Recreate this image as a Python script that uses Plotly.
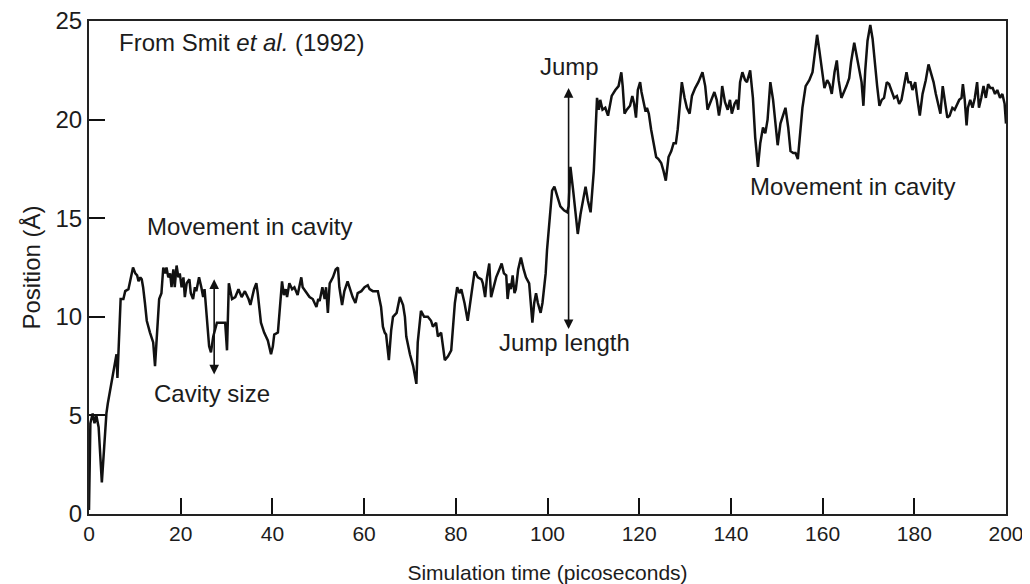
import plotly.graph_objects as go

# Simulation time (ps) and position (Å)
time_ps = [
    0.0, 0.3, 0.8, 1.2, 1.6, 2.1, 2.8, 3.5, 3.8, 4.1, 4.6, 5.3, 5.7, 6.0, 6.2, 6.6, 6.9, 7.5, 7.9, 8.6,
    9.0, 9.6, 10.1, 10.5, 10.8, 11.2, 11.5, 11.8, 12.2, 12.6, 13.3, 14.0, 14.4, 14.8, 15.3, 15.8, 16.2, 16.6, 16.9, 17.3,
    17.7, 18.0, 18.4, 18.7, 19.1, 19.5, 19.8, 20.2, 20.6, 20.9, 21.3, 21.9, 22.2, 22.7, 23.1, 23.4, 24.0, 24.5, 24.9, 25.2,
    25.8, 26.2, 26.6, 27.1, 27.9, 29.7, 30.1, 30.5, 31.2, 31.9, 32.6, 33.3, 34.0, 34.8, 35.2, 36.0, 36.5, 36.8, 37.5, 38.2,
    39.0, 39.7, 40.1, 40.4, 41.2, 41.7, 42.1, 42.5, 42.9, 43.2, 43.7, 44.3, 44.8, 45.5, 46.3, 46.6, 47.4, 48.1, 48.8, 49.6,
    50.0, 50.3, 50.9, 51.4, 51.7, 52.1, 52.5, 53.2, 53.8, 54.3, 54.6, 55.2, 55.7, 56.4, 56.8, 57.5, 58.1, 58.6, 59.4, 60.1,
    60.8, 61.2, 61.9, 63.0, 63.7, 64.1, 64.5, 64.8, 65.4, 65.9, 66.3, 67.1, 67.8, 68.5, 68.9, 69.2, 70.0, 70.7, 71.4, 71.7,
    72.4, 73.1, 73.9, 74.6, 75.0, 75.7, 76.1, 76.8, 77.6, 78.3, 79.0, 79.8, 80.3, 80.8, 81.2, 81.9, 82.6, 83.4, 84.1, 84.8,
    85.6, 85.9, 86.4, 86.8, 87.3, 87.7, 88.3, 88.8, 89.5, 90.0, 90.5, 91.0, 91.3, 91.7, 92.0, 92.4, 92.8, 93.1, 93.6, 94.2,
    94.8, 95.3, 96.0, 96.4, 96.7, 97.1, 97.5, 97.9, 98.5, 98.9, 99.2, 99.6, 99.9, 100.3, 100.7, 101.0, 101.5, 102.1, 102.8, 103.6,
    104.3, 104.6, 105.0, 105.6, 106.1, 106.6, 107.2, 107.9, 108.3, 108.8, 109.4, 110.1, 110.8, 111.2, 111.5, 112.0, 112.6, 113.2, 113.7, 114.0,
    114.8, 115.5, 116.1, 116.4, 116.8, 117.3, 118.0, 118.5, 118.9, 119.3, 119.7, 120.2, 120.5, 120.9, 121.4, 121.7, 122.1, 122.6, 123.1, 123.7,
    124.2, 124.8, 125.3, 125.8, 126.4, 127.0, 127.5, 128.0, 128.4, 128.9, 129.3, 129.9, 130.4, 131.0, 131.5, 132.2, 132.9, 133.8, 134.4, 134.9,
    135.4, 135.8, 136.4, 136.9, 137.4, 137.8, 138.1, 138.7, 139.3, 139.8, 140.2, 140.8, 141.3, 141.6, 142.0, 142.5, 143.1, 143.5, 144.2, 144.8,
    145.3, 145.9, 146.4, 147.0, 147.5, 148.0, 148.6, 149.2, 149.7, 150.2, 150.8, 151.4, 151.9, 152.5, 153.0, 153.6, 154.1, 154.6, 155.1, 155.6,
    156.3, 157.1, 157.8, 158.3, 158.8, 159.3, 159.9, 160.4, 161.0, 161.5, 162.0, 162.6, 163.1, 163.5, 164.1, 164.7, 165.2, 165.8, 166.2, 166.9,
    167.5, 168.0, 168.5, 168.9, 169.3, 169.8, 170.4, 170.9, 171.3, 171.9, 172.4, 172.9, 173.4, 174.0, 174.5, 175.0, 175.6, 176.2, 176.7, 177.2,
    177.8, 178.3, 178.7, 179.2, 179.6, 180.2, 180.7, 181.2, 181.8, 182.5, 183.1, 183.6, 184.2, 184.7, 185.3, 185.7, 186.2, 186.7, 187.2, 187.7,
    188.3, 188.8, 189.3, 189.8, 190.3, 190.6, 191.0, 191.4, 191.7, 192.2, 192.7, 193.2, 193.7, 194.1, 194.6, 195.1, 195.6, 196.1, 196.6, 197.1,
    197.6, 198.1, 198.7, 199.2, 199.7, 200.0,
]
position_A = [
    0.2, 4.6, 5.1, 4.6, 5.0, 4.4, 1.6, 4.4, 5.1, 5.6, 6.3, 7.1, 7.8, 8.1, 6.9, 9.8, 10.9, 10.9, 11.3, 11.4,
    11.9, 12.5, 12.2, 12.1, 11.8, 12.0, 11.9, 11.5, 10.7, 9.8, 9.2, 8.7, 7.5, 8.8, 10.9, 11.2, 12.5, 12.2, 12.5, 12.0,
    12.2, 11.5, 12.4, 11.5, 12.6, 12.0, 12.2, 11.5, 12.0, 11.0, 11.7, 11.9, 11.2, 10.9, 11.5, 11.3, 12.0, 11.5, 11.0, 11.4,
    9.8, 8.5, 8.2, 9.0, 9.7, 9.7, 8.3, 11.7, 10.9, 11.0, 11.4, 11.0, 11.3, 10.9, 10.6, 11.4, 11.7, 11.2, 9.7, 9.2,
    8.8, 8.1, 8.5, 9.1, 9.2, 10.9, 11.8, 11.1, 11.4, 11.0, 11.7, 11.4, 11.5, 11.1, 12.0, 11.5, 11.2, 11.0, 10.9, 10.5,
    10.9, 10.8, 11.5, 10.9, 11.5, 10.2, 11.7, 12.0, 12.4, 12.5, 11.5, 10.6, 11.3, 11.8, 11.5, 11.0, 10.7, 11.2, 11.3, 11.5,
    11.6, 11.4, 11.3, 11.3, 10.5, 9.5, 9.2, 9.1, 7.8, 9.3, 10.0, 10.2, 11.0, 10.6, 10.0, 9.0, 8.1, 7.5, 6.6, 8.7,
    10.3, 10.0, 10.0, 9.8, 9.5, 9.7, 9.0, 9.2, 7.8, 8.0, 8.3, 10.7, 11.5, 11.2, 11.4, 10.7, 9.8, 11.2, 12.3, 12.0,
    11.9, 11.7, 11.0, 12.0, 12.7, 11.0, 11.5, 12.0, 12.4, 12.7, 12.2, 12.1, 10.9, 11.7, 11.4, 12.1, 11.2, 11.4, 12.4, 13.0,
    12.4, 12.0, 11.7, 10.7, 9.7, 10.7, 11.2, 10.7, 10.2, 10.7, 11.4, 12.2, 13.4, 14.4, 15.4, 16.4, 16.6, 16.1, 15.6, 15.4,
    15.3, 15.6, 17.6, 16.4, 15.1, 14.2, 15.2, 16.1, 16.6, 15.9, 15.3, 17.4, 21.1, 20.5, 21.0, 20.5, 20.6, 20.2, 20.8, 21.2,
    21.5, 21.7, 22.4, 21.7, 20.3, 20.5, 20.7, 21.2, 20.8, 20.1, 21.5, 21.9, 21.4, 20.9, 20.4, 20.6, 20.3, 19.5, 18.8, 18.1,
    18.0, 17.8, 17.4, 16.9, 18.1, 18.4, 18.8, 18.8, 19.5, 20.8, 21.9, 21.1, 20.6, 20.3, 21.2, 21.6, 21.9, 22.4, 21.7, 20.5,
    20.8, 21.1, 21.4, 21.0, 20.2, 20.8, 21.7, 20.9, 20.5, 21.0, 20.3, 20.8, 21.0, 20.5, 21.9, 22.4, 22.0, 21.9, 22.5, 21.1,
    19.1, 17.6, 18.8, 19.6, 19.3, 20.0, 21.9, 21.0, 20.0, 18.7, 19.8, 20.3, 20.6, 19.6, 18.4, 18.3, 18.3, 18.0, 19.5, 20.6,
    21.7, 22.0, 22.4, 23.5, 24.3, 23.5, 22.5, 21.6, 22.0, 21.8, 21.3, 22.4, 23.0, 22.0, 21.1, 21.4, 21.7, 22.1, 22.9, 23.9,
    23.2, 22.5, 21.9, 20.7, 22.5, 24.0, 24.8, 24.1, 23.0, 21.7, 20.7, 21.0, 21.1, 21.9, 21.8, 21.5, 21.1, 21.2, 20.8, 21.0,
    21.8, 22.4, 21.9, 21.9, 21.5, 21.9, 21.0, 20.2, 21.3, 22.0, 22.8, 22.4, 21.9, 21.3, 20.6, 20.3, 21.7, 20.8, 20.1, 20.2,
    20.6, 20.5, 20.8, 21.0, 21.1, 21.8, 21.0, 19.7, 20.6, 21.0, 20.6, 21.1, 21.9, 20.6, 21.1, 21.7, 21.1, 21.8, 21.6, 21.6,
    21.3, 21.5, 21.1, 21.3, 20.8, 19.8,
]

x_ticks = [0, 20, 40, 60, 80, 100, 120, 140, 160, 180, 200]
y_ticks = [0, 5, 10, 15, 20, 25]

TXT = "#1c1c1c"
REG = "Liberation Sans, Arial, Helvetica, sans-serif"

fig = go.Figure()
fig.add_trace(go.Scatter(
    x=time_ps, y=position_A, mode="lines",
    line=dict(color="#111111", width=2.5),
    showlegend=False, hoverinfo="skip",
))

def label(text, x, y, xanchor="center"):
    fig.add_annotation(x=x, y=y, xref="x", yref="y", text=text, showarrow=False,
                       xanchor=xanchor, yanchor="middle",
                       font=dict(family=REG, size=24, color=TXT))

def dbl_arrow(x, y0, y1):
    fig.add_annotation(x=x, y=y1, ax=x, ay=y0, xref="x", yref="y", axref="x", ayref="y",
                       text="", showarrow=True, arrowhead=2, startarrowhead=2,
                       arrowside="end+start", arrowsize=1.2, startarrowsize=1.2,
                       arrowwidth=1.6, arrowcolor="#111111")

label("From Smit <i>et al.</i> (1992)", 6.1, 23.9, xanchor="left")
label("Movement in cavity", 35.1, 14.6)
label("Cavity size", 26.8, 6.1)
label("Jump", 104.8, 22.7)
label("Jump length", 103.7, 8.7)
label("Movement in cavity", 166.5, 16.6)

dbl_arrow(27.3, 7.0, 11.9)
dbl_arrow(104.6, 9.3, 21.6)

# page has an 8px body margin, so the figure is sized to fit inside the window
fig.update_layout(
    width=1022, height=576,
    margin=dict(l=81, r=24, t=13, b=70),
    paper_bgcolor="white", plot_bgcolor="white",
    showlegend=False,
)
fig.update_xaxes(
    range=[0, 200], tickvals=x_ticks, ticktext=[str(v) for v in x_ticks],
    ticks="inside", ticklen=16, tickwidth=1.6, tickcolor="#111111",
    showline=True, linewidth=2, linecolor="#222222", mirror=True,
    showgrid=False, zeroline=False, automargin=False, ticklabeloverflow="allow",
    tickfont=dict(family=REG, size=21, color=TXT),
    title=dict(text="Simulation time (picoseconds)", standoff=22,
               font=dict(family=REG, size=21, color=TXT)),
)
fig.update_yaxes(
    range=[0, 25], tickvals=y_ticks, ticktext=[str(v) for v in y_ticks],
    ticks="inside", ticklen=16, tickwidth=1.6, tickcolor="#111111",
    showline=True, linewidth=2, linecolor="#222222", mirror=True,
    showgrid=False, zeroline=False, automargin=False, ticklabeloverflow="allow",
    tickfont=dict(family=REG, size=24, color=TXT),
    title=dict(text="Position (Å)", standoff=8,
               font=dict(family=REG, size=24, color=TXT)),
)

fig.write_html("out.html")
